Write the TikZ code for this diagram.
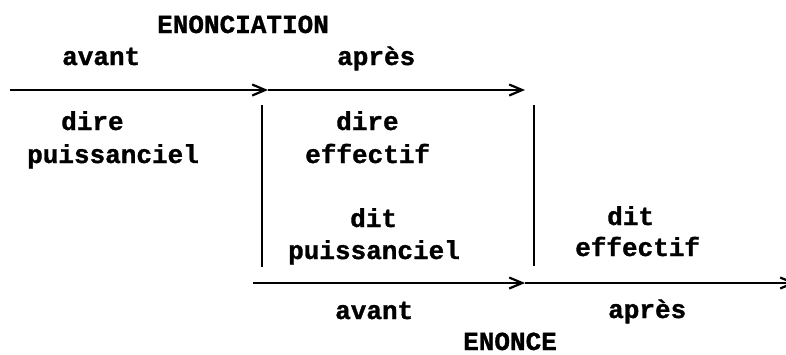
\documentclass[tikz,border=0pt]{standalone}
\usepackage{fontspec}
\setmonofont{Liberation Mono}[BoldFeatures={FakeBold=1.2}]
\usetikzlibrary{arrows.meta}
\begin{document}
\begin{tikzpicture}[x=1pt,y=-1pt,
  lbl/.style={anchor=base west,inner sep=0pt,font=\ttfamily\bfseries\fontsize{26}{26}\selectfont},
  axis/.style={line width=1.8pt,-{Straight Barb[length=13pt,width=11pt,line width=2.2pt]}},
  sep/.style={line width=2pt}]
\useasboundingbox (0,0) rectangle (786,354);
\clip (0,0) rectangle (786,354);
% texts
\node[lbl] (enonciation) at (157,33) {ENONCIATION};
\node[lbl] (avantT) at (62,65) {avant};
\node[lbl] (apresT) at (337,65) {après};
\node[lbl] (direL) at (61,130) {dire};
\node[lbl] (puisL) at (27,163) {puissanciel};
\node[lbl] (direR) at (336,130) {dire};
\node[lbl] (effR) at (305,163) {effectif};
\node[lbl] (ditL) at (350,227) {dit};
\node[lbl] (puisB) at (288,259) {puissanciel};
\node[lbl] (ditR) at (607,225) {dit};
\node[lbl] (effB) at (575,256) {effectif};
\node[lbl] (avantB) at (335,319) {avant};
\node[lbl] (apresB) at (608,318) {après};
\node[lbl] (enonce) at (463,350) {ENONCE};
% axes
\coordinate (t0) at (10,90);
\coordinate (t1) at (268,90);
\coordinate (t2) at (525,90);
\coordinate (b0) at (253,283);
\coordinate (b1) at (525,283);
\coordinate (b2) at (796,283);
\draw[axis] (t0) -- (t1);
\draw[axis] (t1) -- (t2);
\draw[axis] (b0) -- (b1);
\draw[axis] (b1) -- (b2);
% separators
\coordinate (v1a) at (262,105);
\coordinate (v1b) at (262,267);
\coordinate (v2a) at (534,105);
\coordinate (v2b) at (534,266);
\draw[sep] (v1a) -- (v1b);
\draw[sep] (v2a) -- (v2b);
\end{tikzpicture}
\end{document}
